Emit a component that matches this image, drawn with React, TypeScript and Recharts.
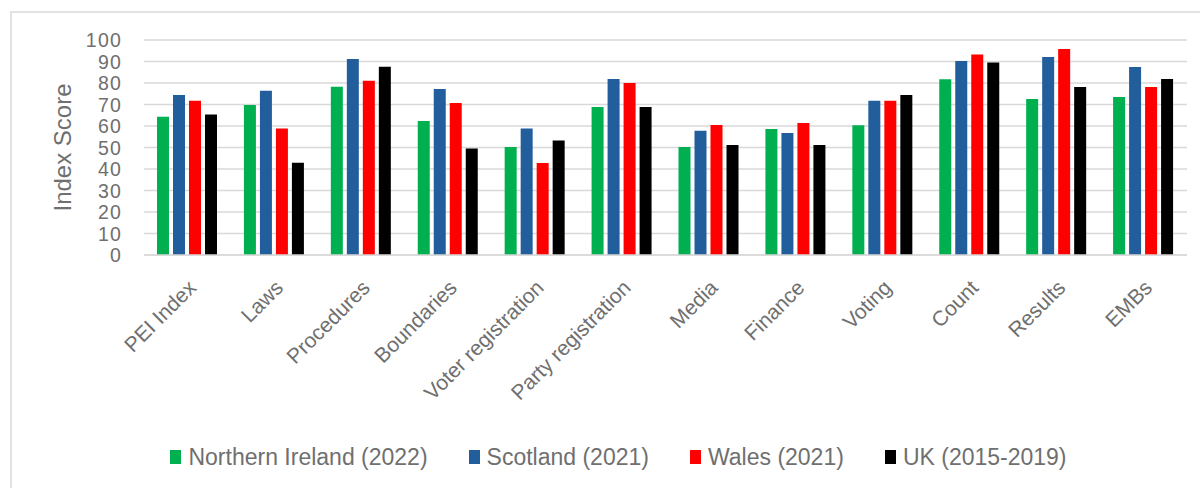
import React from 'react';
import { BarChart, Bar, XAxis, YAxis, CartesianGrid, Legend, Label } from 'recharts';

const categories = ['PEI Index', 'Laws', 'Procedures', 'Boundaries', 'Voter registration', 'Party registration', 'Media', 'Finance', 'Voting', 'Count', 'Results', 'EMBs'];
const northernIreland = [64.3, 69.8, 78.3, 62.3, 50.2, 68.8, 50.2, 58.6, 60.3, 81.7, 72.6, 73.5];
const scotland = [74.4, 76.4, 91.2, 77.2, 58.8, 81.9, 57.8, 56.7, 71.8, 90.2, 92.1, 87.4];
const wales = [71.8, 58.8, 81.1, 70.7, 42.8, 80.0, 60.5, 61.4, 71.8, 93.2, 95.8, 78.1];
const uk = [65.3, 42.9, 87.6, 49.5, 53.2, 68.8, 51.2, 51.2, 74.4, 89.5, 78.1, 81.9];
const yTicks = [0, 10, 20, 30, 40, 50, 60, 70, 80, 90, 100];

const seriesNames = ['Northern Ireland (2022)', 'Scotland (2021)', 'Wales (2021)', 'UK (2015-2019)'];
const seriesColors = ['#00B050', '#235E9C', '#FF0000', '#000000'];

const data = categories.map((c, i) => ({
  name: c,
  ni: northernIreland[i],
  sc: scotland[i],
  wa: wales[i],
  uk: uk[i],
}));

const FONT = '"Liberation Sans", Arial, sans-serif';
const TEXT = '#6f6f6f';

const XTick = (props: any) => {
  const { x, y, payload } = props;
  const tx = x + 10;
  const ty = y + 34;
  return (
    <text x={tx} y={ty} transform={`rotate(-45 ${tx} ${ty})`} textAnchor="end" fill={TEXT} fontSize={21} fontFamily={FONT}>
      {payload.value}
    </text>
  );
};

const YTick = (props: any) => {
  const { x, y, payload } = props;
  return (
    <text x={x} y={y} textAnchor="end" dominantBaseline="central" fill={TEXT} fontSize={19.5} letterSpacing={1.2} fontFamily={FONT}>
      {payload.value}
    </text>
  );
};

const LegendContent = (props: any) => {
  const payload = [...(props.payload || [])].sort(
    (a: any, b: any) => seriesNames.indexOf(a.value) - seriesNames.indexOf(b.value)
  );
  return (
    <div style={{ width: 1237, display: 'flex', justifyContent: 'center', gap: 41, fontFamily: FONT, fontSize: 23, color: TEXT, lineHeight: '28px' }}>
      {payload.map((p: any) => (
        <div key={p.value} style={{ display: 'flex', alignItems: 'center' }}>
          <span style={{ display: 'inline-block', width: 11, height: 14, background: p.color, marginRight: 7 }} />
          <span>{p.value}</span>
        </div>
      ))}
    </div>
  );
};

const YTitle = (props: any) => {
  const { viewBox } = props;
  const cy = viewBox.y + viewBox.height / 2;
  const cx = 62;
  return (
    <text x={cx} y={cy} transform={`rotate(-90 ${cx} ${cy})`} textAnchor="middle" dominantBaseline="central" fill={TEXT} fontSize={24} fontFamily={FONT}>
      Index Score
    </text>
  );
};

export default function App() {
  return (
    <div style={{ position: 'absolute', left: 0, top: 0, width: 1200, height: 488, background: '#fff' }}>
      <div style={{ position: 'absolute', left: 10, top: 11, width: 1190, height: 477, borderLeft: '2px solid #e2e2e2', borderTop: '2px solid #e2e2e2' }} />
      <div style={{ position: 'absolute', left: 0, top: 0 }}>
        <BarChart width={1200} height={488} data={data} margin={{ top: 40, right: 13, left: 0, bottom: 0 }} barSize={12} barGap={4}>
          <CartesianGrid vertical={false} stroke="#d9d9d9" strokeWidth={1.5} />
          <XAxis dataKey="name" height={233} interval={0} tickLine={false} tickSize={0} tickMargin={0} axisLine={{ stroke: '#d9d9d9', strokeWidth: 1.5 }} tick={<XTick />} />
          <YAxis width={144} domain={[0, 100]} ticks={yTicks} interval={0} axisLine={false} tickLine={false} tickSize={0} tickMargin={22} tick={<YTick />}>
            <Label content={<YTitle />} />
          </YAxis>
          <Legend layout="horizontal" verticalAlign="middle" align="center" wrapperStyle={{ top: 443, left: 0 }} content={<LegendContent />} />
          <Bar dataKey="ni" name={seriesNames[0]} fill={seriesColors[0]} isAnimationActive={false} />
          <Bar dataKey="sc" name={seriesNames[1]} fill={seriesColors[1]} isAnimationActive={false} />
          <Bar dataKey="wa" name={seriesNames[2]} fill={seriesColors[2]} isAnimationActive={false} />
          <Bar dataKey="uk" name={seriesNames[3]} fill={seriesColors[3]} isAnimationActive={false} />
        </BarChart>
      </div>
    </div>
  );
}
